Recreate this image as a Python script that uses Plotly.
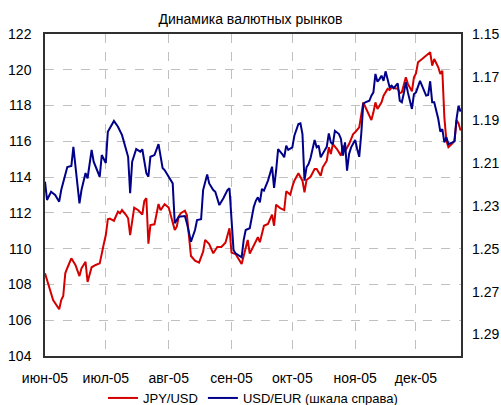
import plotly.graph_objects as go

# ---- data ----
month_ticks = ["2005-06-01", "2005-07-01", "2005-08-01", "2005-09-01",
               "2005-10-01", "2005-11-01", "2005-12-01"]
month_labels = ["июн-05", "июл-05", "авг-05", "сен-05", "окт-05", "ноя-05", "дек-05"]

jpy_dates = [
    "2005-06-01", "2005-06-02", "2005-06-04", "2005-06-05", "2005-06-08", "2005-06-09", "2005-06-10",
    "2005-06-11", "2005-06-12", "2005-06-14", "2005-06-16", "2005-06-18", "2005-06-19", "2005-06-21",
    "2005-06-22", "2005-06-24", "2005-06-26", "2005-06-28", "2005-06-30",
    "2005-07-01", "2005-07-02", "2005-07-03", "2005-07-05", "2005-07-07", "2005-07-08", "2005-07-09",
    "2005-07-11", "2005-07-12", "2005-07-13", "2005-07-15", "2005-07-17", "2005-07-19", "2005-07-20",
    "2005-07-21", "2005-07-22", "2005-07-23", "2005-07-25", "2005-07-27", "2005-07-28", "2005-07-30",
    "2005-08-01", "2005-08-03", "2005-08-04", "2005-08-05", "2005-08-06", "2005-08-07", "2005-08-09",
    "2005-08-10", "2005-08-12", "2005-08-14", "2005-08-16", "2005-08-18", "2005-08-19", "2005-08-21",
    "2005-08-23", "2005-08-25", "2005-08-27", "2005-08-29", "2005-08-30", "2005-08-31",
    "2005-09-01", "2005-09-03", "2005-09-06", "2005-09-08", "2005-09-09", "2005-09-10", "2005-09-12",
    "2005-09-14", "2005-09-15", "2005-09-17", "2005-09-19", "2005-09-21", "2005-09-22", "2005-09-23",
    "2005-09-25", "2005-09-27", "2005-09-28", "2005-09-30",
    "2005-10-01", "2005-10-02", "2005-10-04", "2005-10-06", "2005-10-07", "2005-10-08", "2005-10-10",
    "2005-10-12", "2005-10-13", "2005-10-15", "2005-10-16", "2005-10-18", "2005-10-19", "2005-10-20",
    "2005-10-21", "2005-10-23", "2005-10-25", "2005-10-26", "2005-10-27", "2005-10-29", "2005-10-31",
    "2005-11-01", "2005-11-03", "2005-11-05", "2005-11-07", "2005-11-09", "2005-11-10", "2005-11-11",
    "2005-11-12", "2005-11-14", "2005-11-15", "2005-11-17", "2005-11-18", "2005-11-19", "2005-11-21",
    "2005-11-22", "2005-11-23", "2005-11-24", "2005-11-26", "2005-11-27", "2005-11-29", "2005-11-30",
    "2005-12-01", "2005-12-02", "2005-12-04", "2005-12-06", "2005-12-08", "2005-12-09", "2005-12-10",
    "2005-12-12", "2005-12-13", "2005-12-14", "2005-12-15", "2005-12-16", "2005-12-17", "2005-12-19",
    "2005-12-20", "2005-12-21", "2005-12-22", "2005-12-23",
]
jpy_usd = [
    108.62, 108.25, 107.51, 107.13, 106.61, 107.13, 107.35,
    108.62, 108.92, 109.46, 109.09, 108.47, 108.90, 109.26,
    108.14, 108.96, 109.09, 109.18, 110.26,
    110.76, 111.64, 111.68, 111.56, 112.07, 111.98, 112.16,
    111.88, 111.70, 110.76, 112.29, 112.15, 111.91, 112.67,
    112.82, 110.28, 111.32, 111.36, 112.50, 112.15, 112.49,
    112.30, 111.38, 111.04, 111.23, 111.81, 111.98, 112.12,
    111.88, 109.59, 109.33, 109.22, 109.83, 110.49, 110.26,
    109.74, 110.09, 110.09, 110.33, 110.67, 111.14,
    109.78, 109.70, 109.14, 110.00, 110.49, 109.72, 110.21,
    110.64, 110.36, 111.28, 111.38, 111.90, 111.28, 112.46,
    112.27, 112.16, 113.21, 113.02,
    113.46, 113.80, 114.21, 113.80, 113.15, 113.84, 114.02,
    114.45, 114.45, 114.08, 114.55, 114.92, 115.67, 115.29,
    115.85, 115.57, 115.20, 115.76, 115.44, 115.85, 116.41,
    116.51, 116.78, 118.18, 117.68, 117.19, 117.62, 118.18,
    117.81, 118.18, 118.55, 118.93, 118.87, 119.02, 118.96,
    118.96, 118.69, 118.74, 119.58, 119.21, 118.80, 119.58,
    119.80, 120.42, 120.60, 120.79, 120.98, 120.23, 120.60,
    120.14, 119.76, 119.95, 117.34, 116.04, 115.67, 115.89,
    116.04, 117.19, 117.00, 116.60,
]

eur_dates = [
    "2005-06-01", "2005-06-02", "2005-06-04", "2005-06-06", "2005-06-08", "2005-06-09", "2005-06-12",
    "2005-06-14", "2005-06-15", "2005-06-16", "2005-06-18", "2005-06-19", "2005-06-21", "2005-06-22",
    "2005-06-24", "2005-06-25", "2005-06-28", "2005-06-29",
    "2005-07-01", "2005-07-02", "2005-07-05", "2005-07-07", "2005-07-09", "2005-07-12", "2005-07-13",
    "2005-07-14", "2005-07-16", "2005-07-18", "2005-07-19", "2005-07-21", "2005-07-22", "2005-07-23",
    "2005-07-25", "2005-07-27", "2005-07-29", "2005-07-30",
    "2005-08-01", "2005-08-03", "2005-08-04", "2005-08-05", "2005-08-06", "2005-08-09", "2005-08-10",
    "2005-08-12", "2005-08-14", "2005-08-15", "2005-08-17", "2005-08-18", "2005-08-20", "2005-08-21",
    "2005-08-23", "2005-08-24", "2005-08-26", "2005-08-28", "2005-08-30", "2005-08-31",
    "2005-09-02", "2005-09-03", "2005-09-06", "2005-09-07", "2005-09-08", "2005-09-10", "2005-09-12",
    "2005-09-13", "2005-09-14", "2005-09-15", "2005-09-16", "2005-09-17", "2005-09-19", "2005-09-21",
    "2005-09-22", "2005-09-23", "2005-09-24", "2005-09-26", "2005-09-27", "2005-09-28", "2005-09-29",
    "2005-10-01", "2005-10-02", "2005-10-04", "2005-10-05", "2005-10-06", "2005-10-07", "2005-10-08",
    "2005-10-09", "2005-10-10", "2005-10-12", "2005-10-13", "2005-10-14", "2005-10-15", "2005-10-17",
    "2005-10-18", "2005-10-19", "2005-10-20", "2005-10-21", "2005-10-22", "2005-10-24", "2005-10-25",
    "2005-10-26", "2005-10-27", "2005-10-28", "2005-10-29", "2005-10-30",
    "2005-11-01", "2005-11-02", "2005-11-03", "2005-11-04", "2005-11-05", "2005-11-06", "2005-11-08",
    "2005-11-09", "2005-11-10", "2005-11-11", "2005-11-12", "2005-11-13", "2005-11-14", "2005-11-15",
    "2005-11-16", "2005-11-18", "2005-11-19", "2005-11-20", "2005-11-22", "2005-11-23", "2005-11-24",
    "2005-11-25", "2005-11-26", "2005-11-27", "2005-11-29", "2005-11-30",
    "2005-12-01", "2005-12-03", "2005-12-04", "2005-12-06", "2005-12-07", "2005-12-08", "2005-12-09",
    "2005-12-10", "2005-12-12", "2005-12-13", "2005-12-14", "2005-12-15", "2005-12-16", "2005-12-17",
    "2005-12-19", "2005-12-20", "2005-12-21", "2005-12-22", "2005-12-23",
]
usd_eur = [
    1.2188, 1.2273, 1.2235, 1.2250, 1.2281, 1.2227, 1.2120,
    1.2115, 1.2026, 1.2118, 1.2289, 1.2227, 1.2148, 1.2172,
    1.2040, 1.2095, 1.2165, 1.2064,
    1.2101, 1.1955, 1.1905, 1.1932, 1.1971, 1.2072, 1.2242,
    1.2095, 1.2036, 1.2048, 1.2037, 1.2148, 1.2165, 1.2072,
    1.2064, 1.2013, 1.2124, 1.2134,
    1.2165, 1.2196, 1.2381, 1.2367, 1.2351, 1.2348, 1.2381,
    1.2468, 1.2413, 1.2367, 1.2363, 1.2227, 1.2154, 1.2196,
    1.2227, 1.2235, 1.2297, 1.2265, 1.2227, 1.2219,
    1.2506, 1.2522, 1.2540, 1.2460, 1.2413, 1.2405, 1.2305,
    1.2277, 1.2261, 1.2284, 1.2222, 1.2230, 1.2183, 1.2118,
    1.2217, 1.2137, 1.2036, 1.2059, 1.2074, 1.2020, 1.2040,
    1.2028, 1.1974, 1.1919, 1.1916, 1.1966, 1.2183, 1.2121,
    1.2106, 1.2078, 1.1994, 1.2028, 1.2020, 1.2074, 1.2044,
    1.2025, 1.1963, 1.2005, 1.2013, 1.1951, 1.1966, 1.1989,
    1.2067, 1.2005, 1.2137, 1.2059, 1.2028,
    1.1994, 1.2036, 1.2072, 1.1966, 1.1826, 1.1818, 1.1811,
    1.1787, 1.1772, 1.1686, 1.1722, 1.1710, 1.1694, 1.1718,
    1.1674, 1.1748, 1.1741, 1.1752, 1.1730, 1.1811, 1.1818,
    1.1776, 1.1725, 1.1772, 1.1849, 1.1780,
    1.1772, 1.1718, 1.1741, 1.1787, 1.1784, 1.1720, 1.1818,
    1.1818, 1.1896, 1.1955, 1.1943, 1.2005, 1.1981, 1.2013,
    1.2005, 1.2000, 1.1896, 1.1834, 1.1862,
]

left_ticks = [104, 106, 108, 110, 112, 114, 116, 118, 120, 122]
right_ticks = [1.15, 1.17, 1.19, 1.21, 1.23, 1.25, 1.27, 1.29]

# ---- figure ----
FONT = "Liberation Sans, Arial, sans-serif"
fig = go.Figure()
fig.add_trace(go.Scatter(x=jpy_dates, y=jpy_usd, mode="lines", name="JPY/USD",
                         line=dict(color="#d40000", width=2)))
fig.add_trace(go.Scatter(x=eur_dates, y=usd_eur, mode="lines", name="USD/EUR (шкала справа)",
                         yaxis="y2", line=dict(color="#000088", width=2)))

fig.update_layout(
    width=501, height=405,
    margin=dict(l=45, r=40, t=34, b=49),
    paper_bgcolor="white", plot_bgcolor="white",
    font=dict(family=FONT, size=13, color="black"),
    title=dict(text="Динамика валютных рынков", x=0.5, xanchor="center",
               y=1 - 19 / 405, yanchor="middle", font=dict(size=14)),
    showlegend=True,
    legend=dict(orientation="h", x=0.5, xanchor="center",
                yref="container", y=7 / 405, yanchor="middle",
                font=dict(size=13), itemwidth=30, tracegroupgap=0,
                bgcolor="rgba(0,0,0,0)", borderwidth=0),
    xaxis=dict(type="date", range=["2005-06-01", "2005-12-23 05:00"],
               tickvals=month_ticks, ticktext=month_labels, ticks="",
               tickfont=dict(size=14), automargin=False,
               showgrid=True, gridcolor="#c0c0c0", griddash="dash", gridwidth=1,
               showline=True, linecolor="#303030", linewidth=1.5, mirror=True,
               ticklabelstandoff=8, zeroline=False),
    yaxis=dict(range=[104, 122], tickvals=left_ticks, ticks="",
               tickfont=dict(size=14), automargin=False,
               showgrid=True, gridcolor="#c0c0c0", griddash="dash", gridwidth=1,
               showline=True, linecolor="#303030", linewidth=1.5, mirror=True,
               ticklabelstandoff=9, zeroline=False),
    yaxis2=dict(overlaying="y", side="right", range=[1.30, 1.15],
                tickvals=right_ticks, tickformat=".2f", ticks="",
                tickfont=dict(size=14), automargin=False,
                showgrid=False, showline=False, zeroline=False,
                ticklabelstandoff=10),
)

fig.write_html("out.html", config={"displayModeBar": False},
               post_script="document.body.style.margin='0px';")
